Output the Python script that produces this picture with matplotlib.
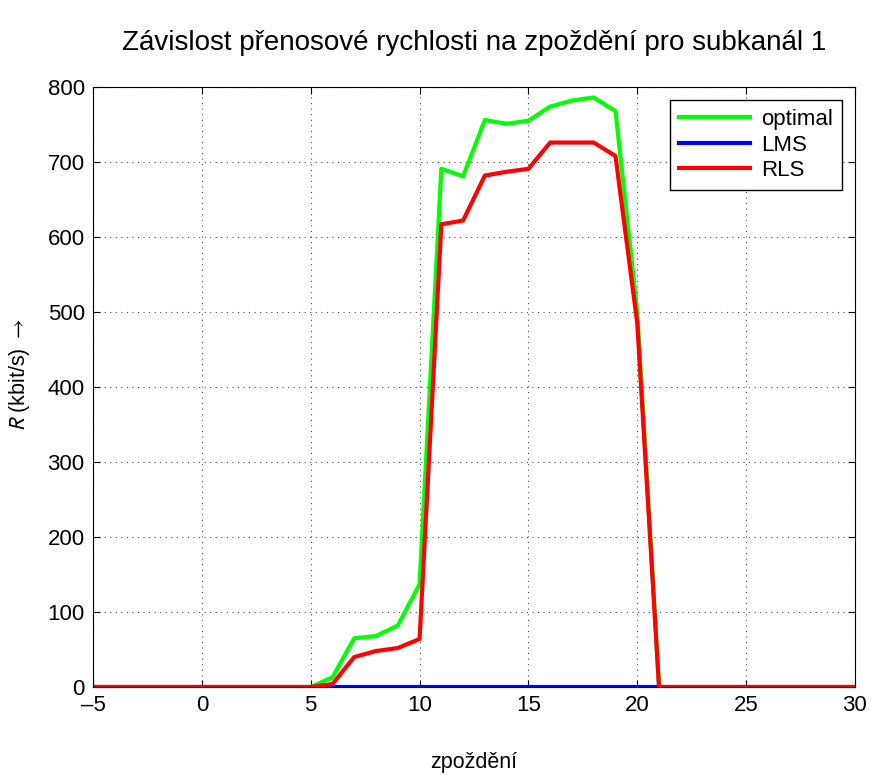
import numpy as np
import matplotlib
matplotlib.use("Agg")
import matplotlib.pyplot as plt

plt.rcParams['font.family'] = ['Liberation Sans', 'DejaVu Sans']
plt.rcParams['mathtext.fontset'] = 'stixsans'

# zpozdeni (delay) axis
delay = list(range(-5, 31))

# transfer rates in kbit/s for subchannel 1
r_optimal = [0, 0, 0, 0, 0, 0, 0, 0, 0, 0,
             0, 13, 65, 68, 82, 137, 691, 681, 756, 751,
             755, 774, 782, 786, 768, 500, 0, 0, 0, 0,
             0, 0, 0, 0, 0, 0]
r_lms = [0] * len(delay)
r_rls = [0, 0, 0, 0, 0, 0, 0, 0, 0, 0,
         0, 4, 40, 48, 52, 64, 617, 622, 682, 687,
         691, 726, 726, 726, 708, 485, 0, 0, 0, 0,
         0, 0, 0, 0, 0, 0]

fig = plt.figure(figsize=(8.71, 7.75), dpi=100)
ax = fig.add_axes([0.1068, 0.1135, 0.8748, 0.7742])

ax.plot(delay, r_optimal, color=(0, 1, 0), lw=3, label='optimal')
ax.plot(delay, r_lms, color=(0, 0, 1), lw=3, label='LMS')
ax.plot(delay, r_rls, color=(1, 0, 0), lw=3, label='RLS')

ax.set_xlim(-5, 30)
ax.set_ylim(0, 800)
ax.set_xticks(range(-5, 31, 5))
ax.set_xticklabels(['\u20135'] + [str(v) for v in range(0, 31, 5)])
ax.set_yticks(range(0, 801, 100))
ax.tick_params(direction='in', top=True, right=True, labelsize=16, length=5, pad=6)
ax.grid(True, linestyle=(0, (1, 4)), color='black', lw=0.8, alpha=0.7)

ax.set_title('Závislost přenosové rychlosti na zpoždění pro subkanál 1',
             fontsize=20, pad=27)
ax.set_xlabel('zpoždění', fontsize=15.5, labelpad=26)
ax.set_ylabel(r'$R$ (kbit/s) $\rightarrow$', fontsize=15.5)
ax.yaxis.set_label_coords(-0.08, 0.52)

leg = ax.legend(loc='upper right', fontsize=16, fancybox=False, framealpha=1,
                edgecolor='black', handlelength=3.2, borderaxespad=0.6,
                labelspacing=0.2, handletextpad=0.5, borderpad=0.4)
leg.get_frame().set_linewidth(1.0)

fig.savefig('out.png', dpi=100)
